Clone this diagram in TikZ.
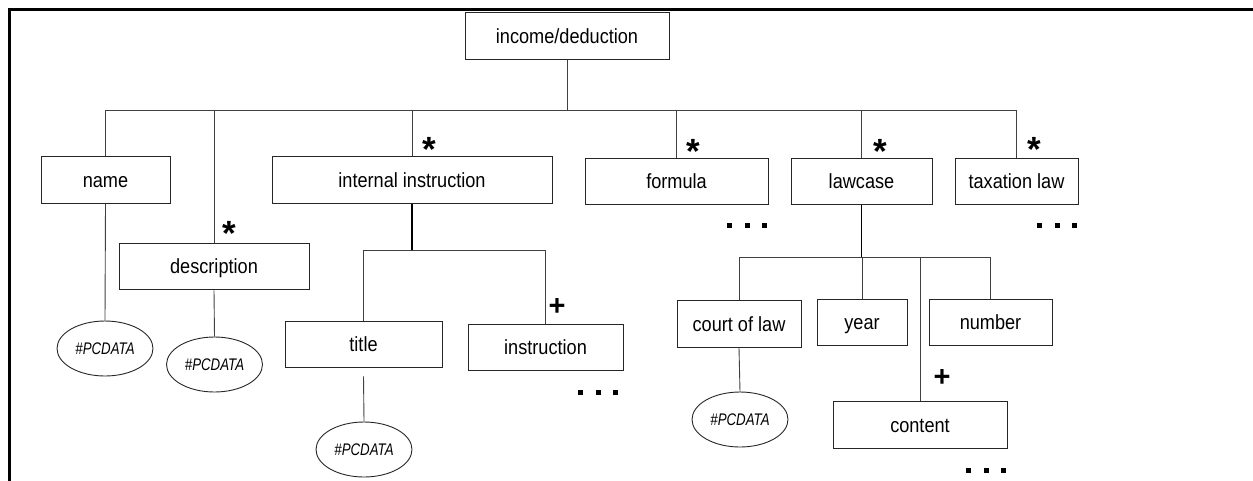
\documentclass[tikz,border=0pt]{standalone}
\usepackage{fontspec}
\usetikzlibrary{shapes.geometric}
\setmainfont{Liberation Sans}
\newfontfamily\lblfont[FakeStretch=0.885]{Liberation Sans}
\newfontfamily\pcdfont[FakeStretch=0.79]{Liberation Sans}
\begin{document}
\begin{tikzpicture}[x=1pt,y=-1pt,
  box/.style={draw=black!85, line width=1pt, inner sep=0pt, minimum height=46.5pt, text height=16pt, text depth=2pt, font=\lblfont\fontsize{20.5}{23}\selectfont},
  leaf/.style={draw=black!85, ellipse, line width=0.9pt, inner sep=0pt, minimum width=96pt, minimum height=55pt, font=\pcdfont\itshape\fontsize{16.8}{18}\selectfont},
  conn/.style={draw=black!75, line width=0.9pt},
  thick conn/.style={draw=black, line width=1.8pt},
  mark star/.style={font=\bfseries\fontsize{35}{35}\selectfont, inner sep=0pt},
  mark plus/.style={font=\bfseries\fontsize{29}{29}\selectfont, inner sep=0pt},
  more/.style={inner sep=0pt, font=\fontsize{10}{10}\selectfont},
]
\useasboundingbox (0,0) rectangle (1253,480);
\clip (0,0) rectangle (1253,480);
% frame
\draw[line width=3pt, line cap=rect] (9.5,481) -- (9.5,9.5) -- (1254,9.5);

% nodes
\node[box, minimum width=204pt] (root) at (567,36) {income/deduction};
\node[box, minimum width=129pt] (name) at (105.5,180) {name};
\node[box, minimum width=280pt] (internal) at (412,180) {internal instruction};
\node[box, minimum width=183pt] (formula) at (676.5,181.5) {formula};
\node[box, minimum width=141pt] (lawcase) at (861.5,181.5) {lawcase};
\node[box, minimum width=123pt] (taxation) at (1016.5,181.5) {taxation law};
\node[box, minimum width=190pt] (description) at (214,266.5) {description};
\node[box, minimum width=157pt] (title) at (363.5,344.5) {title};
\node[box, minimum width=155pt] (instruction) at (545.5,347.5) {instruction};
\node[box, minimum width=124pt] (court) at (739,324) {court of law};
\node[box, minimum width=90pt] (year) at (862,322.5) {year};
\node[box, minimum width=123pt] (number) at (990.5,322.5) {number};
\node[box, minimum width=174pt] (content) at (920,425) {content};

\node[leaf] (e1) at (105,348.5) {\#PCDATA};
\node[leaf] (e2) at (214.5,364.5) {\#PCDATA};
\node[leaf] (e3) at (364,449.5) {\#PCDATA};
\node[leaf] (e4) at (740,419.5) {\#PCDATA};

% bus coordinates
\coordinate (bus) at (0,110);
\coordinate (ibus) at (0,250);
\coordinate (lbus) at (0,257);

% top level connectors
\draw[conn] (root.south) -- (root.south |- bus);
\draw[conn] (name.north) -- (name.north |- bus) -- (taxation.north |- bus) -- (taxation.north);
\draw[conn] (description.north) -- (description.north |- bus);
\draw[conn] (internal.north) -- (internal.north |- bus);
\draw[conn] (formula.north) -- (formula.north |- bus);
\draw[conn] (lawcase.north) -- (lawcase.north |- bus);

% internal instruction subtree
\draw[thick conn] (internal.south) -- (internal.south |- ibus);
\draw[conn] (title.north) -- (title.north |- ibus) -- (instruction.north |- ibus) -- (instruction.north);

% lawcase subtree
\draw[thick conn] (lawcase.south) -- (lawcase.south |- lbus);
\draw[conn] (court.north) -- (court.north |- lbus) -- (number.north |- lbus) -- (number.north);
\draw[conn] (year.north) -- (year.north |- lbus);
\draw[conn] (content.north) -- (content.north |- lbus);

% leaves
\draw[conn] (name.south) -- (e1.north);
\draw[conn] (description.south) -- (e2.north);
\draw[conn] ([yshift=-8pt]title.south) -- (e3.north);
\draw[conn] (court.south) -- (e4.north);

% cardinality marks
\node[mark star] (s1) at (229,233) {*};
\node[mark star] (s2) at (429,149) {*};
\node[mark star] (s3) at (693,151) {*};
\node[mark star] (s4) at (880,151) {*};
\node[mark star] (s5) at (1034,149) {*};
\node[mark plus] (p1) at (557,307) {+};
\node[mark plus] (p2) at (942,378) {+};

% continuation dots
\newcommand{\contdots}{\rule{5pt}{5pt}\hspace{12.5pt}\rule{5pt}{5pt}\hspace{12.5pt}\rule{5pt}{5pt}}
\node[more] (d1) at (598,392) {\contdots};
\node[more] (d2) at (747,225) {\contdots};
\node[more] (d3) at (1057,225) {\contdots};
\node[more] (d4) at (986,470) {\contdots};
\end{tikzpicture}
\end{document}
